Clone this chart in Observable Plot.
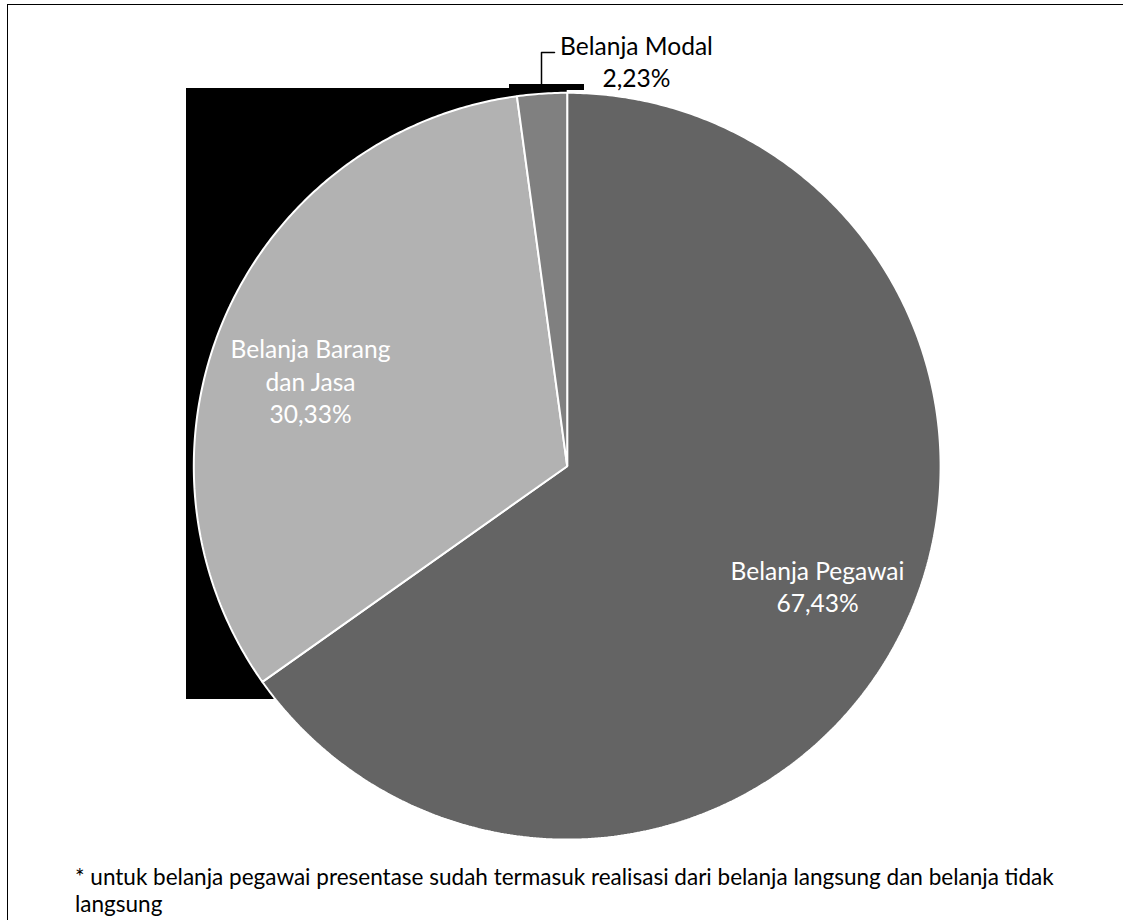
<!DOCTYPE html>
<html>
<head>
<meta charset="utf-8">
<script src="https://cdn.jsdelivr.net/npm/d3@7"></script>
<script src="https://cdn.jsdelivr.net/npm/@observablehq/plot@0.6"></script>
<style>
html, body { margin: 0; padding: 0; background: #fff; }
#wrap { position: relative; width: 1123px; height: 920px; overflow: hidden; font-family: Lato, "Noto Sans", sans-serif; }
#frame { position: absolute; left: 7px; top: 4px; right: -10px; bottom: -10px; border-top: 1.5px solid #000; border-left: 1.5px solid #000; }
#chart { position: absolute; left: 0; top: 0; }
#note { position: absolute; left: 75px; color: #000; white-space: nowrap; font-family: Lato, sans-serif; }
</style>
</head>
<body>
<div id="wrap"><div id="frame"></div><div id="chart"></div><div id="note"></div></div>
<script>
// ---- data ----
const categories = ["Belanja Pegawai", "Belanja Barang dan Jasa", "Belanja Modal"];
// slice sizes as drawn in the picture (angles measured)
const shares = [65.2, 32.65, 2.15];
// printed labels
const labelNames = ["Belanja Pegawai", "Belanja Barang\ndan Jasa", "Belanja Modal"];
const labelPercents = ["67,43%", "30,33%", "2,23%"];
const sliceColors = ["#646464", "#b2b2b2", "#808080"];
const footnoteLines = [
  "* untuk belanja pegawai presentase sudah termasuk realisasi dari belanja langsung dan belanja tidak",
  "langsung"
];

// ---- layout ----
const cx = 566.7, cy = 465.7, R = 373.4;
const px = (v) => (v - cx) / R;     // pixel -> data (x)
const py = (v) => (cy - v) / R;     // pixel -> data (y)

const ctx = document.createElement("canvas").getContext("2d");
function fitSize(text, family, target) {
  ctx.font = `100px ${family}`;
  const w = ctx.measureText(text).width;
  return 100 * target / w;
}
const labelFont = fitSize("Belanja Pegawai", "Lato", 174);
const noteFont = fitSize(footnoteLines[0], "Lato", 979);

// slices
const arcs = d3.pie().sort(null).value(d => d)(shares);
const slices = arcs.map((a, i) => {
  const pts = [{x: 0, y: 0}];
  const n = Math.max(4, Math.ceil((a.endAngle - a.startAngle) / (Math.PI / 360)));
  for (let k = 0; k <= n; k++) {
    const t = a.startAngle + (a.endAngle - a.startAngle) * k / n;
    pts.push({x: Math.sin(t), y: Math.cos(t)});
  }
  return {name: categories[i], color: sliceColors[i], pts};
});

const labelPos = [
  {x: px(817), y: py(585), fill: "#fff"},
  {x: px(310), y: py(380), fill: "#fff"},
  {x: px(636), y: py(60), fill: "#000"}
];
const labels = categories.map((c, i) => ({
  text: labelNames[i] + "\n" + labelPercents[i],
  x: labelPos[i].x, y: labelPos[i].y, fill: labelPos[i].fill
}));

// rendering artefacts present in the reference (black boxes behind the pie)
const blackBoxes = [
  {x1: px(186), x2: 0, y1: py(699), y2: py(88)},
  {x1: px(509), x2: px(584), y1: py(90), y2: py(84)}
];
const leader = [
  {x: px(541), y: py(85)}, {x: px(541), y: py(52)}, {x: px(554), y: py(52)}
];

const chart = Plot.plot({
  width: 1123, height: 920, margin: 0,
  style: {background: "transparent"},
  x: {domain: [-1, 1], range: [cx - R, cx + R], axis: null},
  y: {domain: [-1, 1], range: [cy + R, cy - R], axis: null},
  marks: [
    Plot.rect(blackBoxes, {x1: "x1", x2: "x2", y1: "y1", y2: "y2", fill: "#000"}),
    ...slices.map(s => Plot.line(s.pts, {x: "x", y: "y", fill: s.color, stroke: "#fff", strokeWidth: 2, curve: "linear-closed", strokeLinejoin: "miter"})),
    Plot.line(leader, {x: "x", y: "y", stroke: "#000", strokeWidth: 1.5}),
    Plot.text(labels, {x: "x", y: "y", text: "text", fill: "fill", fontSize: labelFont, fontFamily: "Lato", lineHeight: 32.5 / labelFont, textAnchor: "middle"})
  ]
});
document.getElementById("chart").appendChild(chart);

// footnote
const note = document.getElementById("note");
note.style.fontSize = noteFont + "px";
note.style.lineHeight = "27px";
ctx.font = `${noteFont}px Lato`;
const m = ctx.measureText(footnoteLines[0]);
const asc = m.fontBoundingBoxAscent ?? noteFont * 0.987;
const desc = m.fontBoundingBoxDescent ?? noteFont * 0.213;
const baseOffset = (27 - (asc + desc)) / 2 + asc;
note.style.top = (885 - baseOffset) + "px";
footnoteLines.forEach((t, i) => {
  const d = document.createElement("div");
  d.textContent = t;
  note.appendChild(d);
});
</script>
</body>
</html>
